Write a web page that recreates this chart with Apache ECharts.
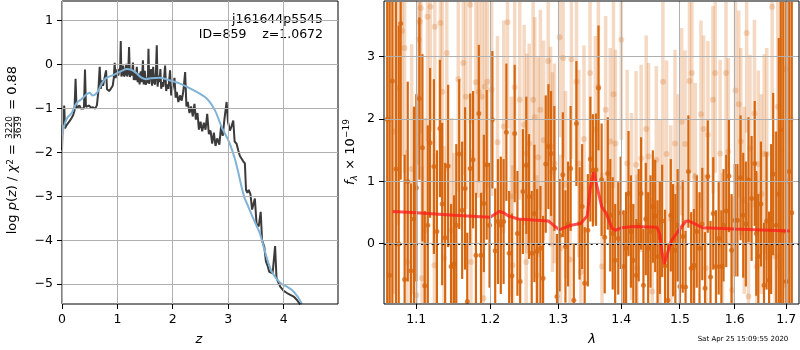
<!DOCTYPE html>
<html><head><meta charset="utf-8">
<script src="https://cdn.jsdelivr.net/npm/echarts@6/dist/echarts.min.js"></script>
<style>html,body{margin:0;padding:0;background:#fff}#c{width:800px;height:350px}</style>
</head><body><div id="c"></div>
<script>
const FONT = 'DejaVu Sans';
// ---------- left panel: log p(z) ----------
const pzZ = [0.000,0.010,0.025,0.040,0.055,0.080,0.110,0.140,0.170,0.200,0.225,0.245,0.262,0.290,0.315,0.340,0.370,0.395,0.415,0.432,0.460,0.490,0.520,0.560,0.600,0.630,0.655,0.680,0.700,0.720,0.740,0.760,0.795,0.812,0.850,0.880,0.915,0.935,0.950,0.965,0.985,1.000,1.015,1.035,1.050,1.060,1.072,1.090,1.105,1.120,1.140,1.160,1.175,1.195,1.210,1.225,1.245,1.262,1.280,1.295,1.315,1.330,1.350,1.365,1.385,1.400,1.420,1.440,1.460,1.475,1.495,1.512,1.535,1.548,1.560,1.575,1.595,1.610,1.625,1.645,1.660,1.680,1.695,1.710,1.725,1.745,1.760,1.775,1.790,1.810,1.830,1.860,1.880,1.900,1.920,1.950,1.970,2.000,2.030,2.050,2.070,2.100,2.130,2.160,2.190,2.222,2.245,2.270,2.300,2.330,2.360,2.390,2.415,2.445,2.470,2.500,2.530,2.560,2.590,2.620,2.650,2.680,2.710,2.740,2.770,2.800,2.840,2.870,2.900,2.930,2.970,2.995,3.030,3.060,3.090,3.115,3.150,3.180,3.210,3.240,3.270,3.300,3.320,3.345,3.370,3.400,3.430,3.480,3.510,3.550,3.585,3.610,3.650,3.680,3.710,3.740,3.770,3.800,3.845,3.870,3.900,3.940,4.000,4.060,4.120,4.180,4.240,4.300];
const pzLog = [-1.95,-1.40,-1.30,-0.93,-1.45,-1.38,-1.33,-1.28,-1.22,-1.15,-1.05,-0.32,-1.00,-0.98,-0.93,-1.00,-0.96,-1.00,-0.11,-0.96,-1.00,-0.93,-0.98,-0.97,-1.00,-0.92,-0.62,-0.05,-0.55,-0.36,-0.48,-0.50,-0.13,-0.56,-0.60,-0.55,-0.48,-0.30,0.04,-0.30,-0.22,-0.10,-0.25,-0.28,-0.05,0.54,-0.27,-0.20,-0.02,-0.27,-0.22,0.02,-0.27,-0.18,0.40,-0.28,-0.12,-0.25,0.05,-0.35,-0.18,-0.35,-0.05,-0.40,-0.20,-0.45,-0.15,-0.40,0.10,-0.45,-0.14,-0.46,-0.30,-0.42,0.36,-0.44,-0.20,-0.10,-0.48,-0.05,-0.40,-0.45,-0.15,0.44,-0.50,-0.25,-0.40,-0.10,-0.55,-0.40,-0.50,-0.02,-0.60,-0.45,-0.55,-0.13,-0.70,-0.66,-0.30,-0.75,-0.62,-0.85,-0.70,-0.82,-0.60,-0.17,-0.95,-0.85,-1.10,-0.95,-1.18,-0.89,-1.25,-1.10,-1.48,-1.30,-1.52,-1.32,-1.48,-1.12,-1.58,-1.50,-1.80,-1.55,-1.85,-1.68,-1.82,-1.40,-1.62,-1.25,-0.85,-1.30,-1.50,-1.40,-1.27,-1.75,-1.80,-1.95,-2.08,-2.05,-2.20,-2.25,-2.85,-2.92,-2.85,-2.95,-3.30,-3.05,-3.62,-3.68,-3.35,-4.00,-4.15,-4.48,-4.58,-4.72,-4.70,-4.75,-4.13,-4.85,-4.95,-5.06,-5.15,-5.20,-5.24,-5.28,-5.36,-5.46];
const smoothZ = [0.00,0.05,0.10,0.175,0.26,0.356,0.44,0.50,0.55,0.60,0.66,0.72,0.80,0.90,1.00,1.08,1.17,1.25,1.33,1.44,1.52,1.60,1.77,1.95,2.13,2.37,2.61,2.76,2.88,3.00,3.06,3.12,3.18,3.24,3.29,3.35,3.45,3.57,3.65,3.72,3.80,3.94,4.05,4.15,4.25,4.33];
const smoothLog = [-1.60,-1.35,-1.20,-1.10,-0.88,-0.78,-0.68,-0.64,-0.70,-0.68,-0.58,-0.42,-0.30,-0.25,-0.19,-0.14,-0.10,-0.12,-0.18,-0.30,-0.33,-0.31,-0.30,-0.36,-0.43,-0.58,-0.77,-1.04,-1.42,-1.72,-1.91,-2.15,-2.45,-2.78,-3.02,-3.20,-3.50,-3.84,-4.20,-4.50,-4.75,-4.97,-5.05,-5.13,-5.28,-5.45];
const zTicks = [0,1,2,3,4];
const pzTicks = [-5,-4,-3,-2,-1,0,1];

// ---------- right panel: spectrum ----------
const darkLam = [1.063,1.066,1.0695,1.074,1.0775,1.080,1.085,1.089,1.093,1.097,1.100,1.104,1.108,1.111,1.115,1.118,1.123,1.127,1.131,1.134,1.138,1.142,1.146,1.150,1.153,1.157,1.161,1.165,1.168,1.172,1.176,1.180,1.184,1.187,1.191,1.195,1.199,1.203,1.207,1.211,1.215,1.219,1.223,1.227,1.231,1.235,1.239,1.243,1.247,1.252,1.256,1.260,1.264,1.268,1.273,1.277,1.281,1.285,1.289,1.294,1.298,1.302,1.307,1.311,1.315,1.319,1.324,1.328,1.333,1.337,1.341,1.346,1.350,1.354,1.359,1.363,1.368,1.373,1.378,1.382,1.386,1.390,1.395,1.399,1.404,1.408,1.412,1.416,1.420,1.425,1.429,1.433,1.437,1.441,1.445,1.449,1.453,1.457,1.461,1.465,1.469,1.474,1.479,1.484,1.488,1.492,1.496,1.500,1.505,1.510,1.515,1.520,1.525,1.530,1.535,1.540,1.545,1.550,1.555,1.560,1.565,1.570,1.575,1.579,1.584,1.589,1.594,1.600,1.605,1.611,1.616,1.621,1.626,1.632,1.638,1.641,1.645,1.650,1.656,1.661,1.666,1.670,1.674,1.680,1.685,1.689,1.694,1.700,1.706,1.711];
const darkFlux = [2.0,-0.5,2.61,1.2,0.0,3.53,-0.57,1.0,-0.43,0.4,0.9,2.33,1.54,-0.67,0.3,1.62,1.24,0.2,1.85,0.64,0.1,1.25,-0.36,-0.32,0.3,1.44,0.54,0.89,-0.92,1.21,1.35,-0.18,2.09,-0.18,0.65,1.27,0.3,1.99,-0.11,0.36,0.3,0.36,1.79,-0.15,-0.51,1.77,0.17,-0.6,0.84,1.26,0.76,-0.15,0.49,-0.12,-0.07,-0.55,1.28,1.56,1.45,1.21,-0.84,0.14,1.11,-0.04,0.32,1.21,-0.9,1.93,0.33,0.6,-0.63,0.22,1.36,1.18,1.19,2.5,1.03,0.11,1.13,0.46,0.17,-0.26,0.09,0.5,-0.36,-0.07,0.81,0.2,-0.26,-0.5,0.3,0.81,-0.66,0.4,-0.07,0.2,0.6,0.45,-0.2,0.1,0.37,-0.35,-0.9,0.46,0.06,-0.1,0.3,-0.68,0.12,-0.69,1.16,-0.39,-0.34,0.2,-0.07,0.32,-0.71,1.08,-0.53,0.49,-0.36,0.09,-0.36,0.3,0.53,1.09,-0.1,0.38,0.38,1.06,0.46,0.32,1.03,0.73,1.29,0.17,-0.2,0.64,-0.66,0.37,-0.58,0.4,1.12,0.3,0.8,1.83,0.2,-0.6,1.16,0.5];
const darkErr = [6,6,5,4,3.5,2.5,2.0,1.6,1.4,1.8,1.5,1.3,1.5,1.2,1.6,1.2,1.4,1.3,1.1,1.3,1.2,1.3,1.0,1.1,1.3,1.2,1.1,1.3,1.1,1.2,1.1,1.0,1.1,1.0,1.1,1.2,1.0,1.1,1.0,1.0,1.1,1.0,1.1,1.0,1.0,1.1,1.0,1.0,1.0,1.1,1.0,1.0,1.1,1.0,1.0,1.0,1.1,1.0,1.0,1.0,1.0,0.9,1.0,0.9,1.0,1.0,0.9,1.0,0.9,1.0,0.9,0.9,1.0,0.9,0.9,1.0,0.9,0.9,0.9,0.9,0.9,0.9,0.9,0.9,0.9,0.9,1.0,0.9,0.9,0.9,0.9,0.9,0.9,0.9,0.9,0.9,0.9,0.9,0.9,0.9,0.9,0.9,0.9,0.9,0.9,0.9,0.9,0.9,0.9,0.9,0.9,0.9,0.9,0.9,0.9,0.9,0.9,0.9,0.9,0.9,0.9,0.9,0.9,0.9,0.9,0.9,0.9,0.9,0.9,1.0,1.0,1.0,1.0,1.0,1.0,1.0,1.0,1.0,1.0,1.1,1.1,1.2,1.3,1.5,2.5,4,5,6,6,6,6];
const lightLam = [1.066,1.072,1.077,1.0817,1.0849,1.0881,1.094,1.100,1.1032,1.1046,1.1059,1.1075,1.1114,1.1146,1.1183,1.1237,1.1242,1.1315,1.1342,1.1364,1.1402,1.1466,1.1497,1.1557,1.1626,1.1662,1.1721,1.1730,1.1799,1.1836,1.1881,1.1904,1.1922,1.1959,1.2020,1.2103,1.2192,1.2246,1.2300,1.2320,1.2350,1.2424,1.2488,1.2518,1.2527,1.2562,1.2621,1.2645,1.2675,1.2695,1.2729,1.2778,1.2847,1.2882,1.2911,1.2941,1.3021,1.3035,1.3074,1.3112,1.3180,1.3202,1.3282,1.3319,1.3350,1.3399,1.3495,1.3580,1.3628,1.3686,1.3745,1.3819,1.3872,1.3904,1.4000,1.4097,1.4170,1.4246,1.4262,1.4331,1.4417,1.4457,1.4520,1.4589,1.4650,1.4703,1.4766,1.4840,1.4914,1.4970,1.5030,1.5091,1.5170,1.5212,1.5250,1.5273,1.5376,1.5424,1.5465,1.5503,1.5594,1.5636,1.5727,1.5770,1.5836,1.5879,1.5950,1.6013,1.6075,1.6113,1.6180,1.6225,1.6260,1.6290,1.6375,1.6420,1.6450,1.6510,1.6563,1.6613,1.6719,1.6780,1.683,1.690,1.697,1.703,1.709];
const lightFlux = [2.0,1.8,2.5,3.41,3.14,-0.29,1.2,-0.82,3.27,3.56,3.78,-0.55,0.22,3.64,3.8,-0.34,3.48,3.54,2.44,-0.23,3.06,0.22,-0.34,2.64,2.9,2.36,3.83,-0.29,2.59,2.44,2.36,-0.87,2.52,2.6,2.47,1.63,1.88,3.55,0.76,-0.34,2.51,2.31,1.91,-0.29,1.45,1.61,2.31,2.03,-0.5,1.39,2.15,1.66,2.93,1.56,1.15,1.29,3.31,-0.07,2.98,0.95,-0.25,2.96,2.6,1.29,-0.45,1.68,2.74,1.83,2.52,-0.36,2.15,1.64,2.4,1.61,3.27,1.29,0.6,1.27,-0.39,1.37,1.84,1.4,-0.76,1.35,0.5,2.6,1.44,0.4,1.61,0.9,1.96,1.6,2.61,2.74,-0.36,1.08,2.08,1.84,-0.39,1.75,2.31,2.74,1.45,-0.36,2.74,1.48,-0.74,2.46,2.24,1.64,0.7,3.38,-0.84,1.53,2.09,-0.36,1.28,0.8,1.44,1.44,3.8,-0.2,2.2,1.5,2.8,1.0,2.0];
const lightErr = [3.0,2.6,2.2,2.0,2.0,1.8,2.0,1.8,2.0,2.0,2.0,1.8,1.8,2.0,2.0,1.8,2.0,2.0,1.8,1.8,1.9,1.8,1.8,1.8,1.8,1.8,1.9,1.8,1.8,1.7,1.7,1.7,1.7,1.7,1.7,1.7,1.7,1.7,1.6,1.6,1.7,1.6,1.6,1.6,1.6,1.6,1.6,1.6,1.6,1.6,1.6,1.6,1.6,1.6,1.6,1.6,1.6,1.5,1.6,1.5,1.5,1.6,1.6,1.5,1.5,1.5,1.6,1.5,1.5,1.5,1.5,1.5,1.5,1.5,1.6,1.5,1.5,1.5,1.5,1.5,1.5,1.5,1.5,1.5,1.5,1.6,1.5,1.5,1.5,1.5,1.5,1.5,1.6,1.6,1.5,1.5,1.5,1.5,1.5,1.5,1.5,1.6,1.5,1.5,1.6,1.5,1.5,1.5,1.5,1.5,1.5,1.6,1.5,1.5,1.5,1.5,1.5,1.6,1.6,1.7,1.8,2.0,2.6,3.0,3.5,4,4];
const modelLam = [1.07,1.10,1.15,1.20,1.207,1.213,1.219,1.226,1.24,1.285,1.295,1.302,1.32,1.335,1.345,1.350,1.355,1.360,1.368,1.375,1.385,1.39,1.40,1.42,1.46,1.465,1.469,1.473,1.478,1.485,1.495,1.51,1.515,1.525,1.54,1.60,1.707];
const modelFlux = [0.52,0.50,0.46,0.43,0.48,0.52,0.50,0.45,0.40,0.37,0.28,0.23,0.30,0.33,0.45,0.90,1.15,0.95,0.60,0.50,0.25,0.22,0.26,0.28,0.27,0.15,-0.15,-0.32,-0.15,0.05,0.18,0.36,0.37,0.33,0.26,0.24,0.21];
const lamTicks = [1.1,1.2,1.3,1.4,1.5,1.6,1.7];
const fluxTicks = [0,1,2,3];

const zip3 = (a,b,c) => a.map((v,i) => [v, b[i], c[i]]);
const zip2 = (a,b) => a.map((v,i) => [v, b[i]]);
const minus = v => (v < 0 ? '\u2212' + Math.abs(v) : String(v));

const DARK = '#d7670f';
const LIGHT_BAR = 'rgba(215,104,15,0.25)';
const LIGHT_DOT = 'rgba(215,104,15,0.3)';
const GRIDC = '#b0b0b0';
const crisp = v => Math.round(v - 0.5) + 0.5;

// layout of the two panels
const G0 = { left: 62, top: 1, width: 276, height: 303 };
const G1 = { left: 384, top: 1, width: 415, height: 303 };
const X0 = [0, 4.98], Y0 = [-5.45, 1.45];

function errRender(color, width) {
  return function (params, api) {
    const x = api.value(0), y = api.value(1), e = api.value(2);
    const p1 = api.coord([x, y + e]), p2 = api.coord([x, y - e]);
    const cs = params.coordSys;
    const top = cs.y + 1, bot = cs.y + cs.height - 1;
    const y1 = Math.max(top, Math.min(bot, p1[1]));
    const y2 = Math.max(top, Math.min(bot, p2[1]));
    if (y1 === y2) return null;
    return { type: 'line', shape: { x1: p1[0], y1: y1, x2: p1[0], y2: y2 },
             style: { stroke: color, lineWidth: width } };
  };
}
function vGridRender(params, api) {
  const p = api.coord([api.value(0), api.value(1)]);
  const cs = params.coordSys, x = crisp(p[0]), b = cs.y + cs.height;
  return { type: 'group', children: [
    { type: 'line', shape: { x1: x, y1: cs.y, x2: x, y2: b }, style: { stroke: GRIDC, lineWidth: 1 } },
    { type: 'line', shape: { x1: x, y1: b, x2: x, y2: b + 5 }, style: { stroke: '#000', lineWidth: 1 } }
  ] };
}
function hGridRender(params, api) {
  const p = api.coord([api.value(0), api.value(1)]);
  const cs = params.coordSys, y = crisp(p[1]);
  return { type: 'group', children: [
    { type: 'line', shape: { x1: cs.x, y1: y, x2: cs.x + cs.width, y2: y }, style: { stroke: GRIDC, lineWidth: 1 } },
    { type: 'line', shape: { x1: cs.x - 5, y1: y, x2: cs.x, y2: y }, style: { stroke: '#000', lineWidth: 1 } }
  ] };
}

const tickLabel = { color: '#000', fontFamily: FONT, fontSize: 12.5, margin: 9 };

const baseGraphic = [
  { type: 'text', x: 323, y: 20, z: 20, style: { text: 'j161644p5545', font: '12.5px "DejaVu Sans"', fill: '#000', align: 'right', verticalAlign: 'middle', textAlign: 'right', textVerticalAlign: 'middle' } },
  { type: 'text', x: 323, y: 35, z: 20, style: { text: 'ID=859    z=1.0672', font: '12.5px "DejaVu Sans"', fill: '#000', align: 'right', verticalAlign: 'middle', textAlign: 'right', textVerticalAlign: 'middle' } },
  { type: 'text', x: 743, y: 339, z: 20, style: { text: 'Sat Apr 25 15:09:55 2020', font: '7px "DejaVu Sans"', fill: '#000', align: 'center', verticalAlign: 'middle', textAlign: 'center', textVerticalAlign: 'middle' } },
  { type: 'text', x: 199, y: 340, z: 20, style: { text: 'z', font: 'italic 13px "DejaVu Sans"', fill: '#000', align: 'center', verticalAlign: 'middle', textAlign: 'center', textVerticalAlign: 'middle' } },
  { type: 'text', x: 592, y: 340, z: 20, style: { text: 'λ', font: 'italic 13px "DejaVu Sans"', fill: '#000', align: 'center', verticalAlign: 'middle', textAlign: 'center', textVerticalAlign: 'middle' } },
  { type: 'group', x: 13, y: 240, rotation: Math.PI / 2, z: 20, children: [
    { type: 'text', x: 96, y: 0, style: { text: '{n|log }{i|p}{n|(}{i|z}{n|) / }{i|χ}{s|2}{n| =}', align: 'right', verticalAlign: 'middle', textAlign: 'right', textVerticalAlign: 'middle',
        rich: { n: { fontFamily: FONT, fontSize: 13, fill: '#000', color: '#000' }, i: { fontFamily: FONT, fontSize: 13, fontStyle: 'italic', fill: '#000', color: '#000' }, s: { fontFamily: FONT, fontSize: 9, fill: '#000', color: '#000', verticalAlign: 'top' } } } },
    { type: 'text', x: 112.5, y: -3.5, style: { text: '3220', font: '9px "DejaVu Sans"', fill: '#000', align: 'center', verticalAlign: 'middle', textAlign: 'center', textVerticalAlign: 'middle' } },
    { type: 'rect', shape: { x: 101.5, y: 0.6, width: 22, height: 0.9 }, style: { fill: '#000' } },
    { type: 'text', x: 112.5, y: 6, style: { text: '3639', font: '9px "DejaVu Sans"', fill: '#000', align: 'center', verticalAlign: 'middle', textAlign: 'center', textVerticalAlign: 'middle' } },
    { type: 'text', x: 126, y: 0, style: { text: ' = 0.88', font: '13px "DejaVu Sans"', fill: '#000', align: 'left', verticalAlign: 'middle', textAlign: 'left', textVerticalAlign: 'middle' } }
  ] },
  { type: 'group', x: 351, y: 185, rotation: Math.PI / 2, z: 20, children: [
    { type: 'text', x: 0, y: 0, style: { text: 'f', font: 'italic 13px "DejaVu Sans"', fill: '#000', align: 'left', verticalAlign: 'middle', textAlign: 'left', textVerticalAlign: 'middle' } },
    { type: 'text', x: 4.5, y: 4, style: { text: 'λ', font: 'italic 9px "DejaVu Sans"', fill: '#000', align: 'left', verticalAlign: 'middle', textAlign: 'left', textVerticalAlign: 'middle' } },
    { type: 'text', x: 11, y: 0, style: { text: ' × 10', font: '13px "DejaVu Sans"', fill: '#000', align: 'left', verticalAlign: 'middle', textAlign: 'left', textVerticalAlign: 'middle' } },
    { type: 'text', x: 47, y: -4.5, style: { text: '\u221219', font: '9px "DejaVu Sans"', fill: '#000', align: 'left', verticalAlign: 'middle', textAlign: 'left', textVerticalAlign: 'middle' } }
  ] }
];

const chart = echarts.init(document.getElementById('c'), null, { renderer: 'canvas' });
chart.setOption({
  animation: false,
  backgroundColor: '#fff',
  grid: [
    Object.assign({ show: true, borderColor: '#000', borderWidth: 1, z: 8 }, G0),
    Object.assign({ show: true, borderColor: '#000', borderWidth: 1, z: 8 }, G1)
  ],
  xAxis: [
    { gridIndex: 0, type: 'value', min: X0[0], max: X0[1], axisLine: { show: false }, axisTick: { show: false }, splitLine: { show: false },
      axisLabel: Object.assign({}, tickLabel, { customValues: zTicks, formatter: minus }) },
    { gridIndex: 1, type: 'log', logBase: 10, min: 1.059, max: 1.7256, axisLine: { show: false }, axisTick: { show: false }, splitLine: { show: false },
      axisLabel: Object.assign({}, tickLabel, { customValues: lamTicks, formatter: v => Number(v).toFixed(1) }) }
  ],
  yAxis: [
    { gridIndex: 0, type: 'value', min: Y0[0], max: Y0[1], axisLine: { show: false }, axisTick: { show: false }, splitLine: { show: false },
      axisLabel: Object.assign({}, tickLabel, { customValues: pzTicks, formatter: minus }) },
    { gridIndex: 1, type: 'value', min: -0.961, max: 3.892, axisLine: { show: false }, axisTick: { show: false }, splitLine: { show: false },
      axisLabel: Object.assign({}, tickLabel, { customValues: fluxTicks, formatter: minus }) }
  ],
  series: [
    { type: 'line', xAxisIndex: 0, yAxisIndex: 0, data: zip2(pzZ, pzLog), showSymbol: false, symbol: 'none',
      lineStyle: { color: '#3b3b3b', width: 2 }, clip: true, z: 3 },
    { type: 'line', xAxisIndex: 0, yAxisIndex: 0, data: zip2(smoothZ, smoothLog), showSymbol: false, symbol: 'none', smooth: 0.3,
      lineStyle: { color: '#80b3d8', width: 2 }, clip: true, z: 4 },
    { type: 'custom', xAxisIndex: 1, yAxisIndex: 1, data: zip3(lightLam, lightFlux, lightErr),
      encode: { x: 0, y: 1 }, renderItem: errRender(LIGHT_BAR, 3.5), z: 2 },
    { type: 'scatter', xAxisIndex: 1, yAxisIndex: 1, data: zip2(lightLam, lightFlux), symbolSize: 6,
      itemStyle: { color: LIGHT_DOT }, clip: true, z: 2 },
    { type: 'custom', xAxisIndex: 1, yAxisIndex: 1, data: zip3(darkLam, darkFlux, darkErr),
      encode: { x: 0, y: 1 }, renderItem: errRender(DARK, 2.2), z: 3 },
    { type: 'scatter', xAxisIndex: 1, yAxisIndex: 1, data: zip2(darkLam, darkFlux), symbolSize: 5,
      itemStyle: { color: DARK }, clip: true, z: 3 },
    { type: 'line', xAxisIndex: 1, yAxisIndex: 1, data: zip2(modelLam, modelFlux), showSymbol: false, symbol: 'none',
      lineStyle: { color: 'rgba(255,25,25,0.75)', width: 3 }, z: 4,
      markLine: { silent: true, symbol: 'none', label: { show: false }, animation: false,
        data: [{ yAxis: 0, lineStyle: { color: '#000', width: 2, type: [2, 3.3] } }] } },
    { type: 'custom', xAxisIndex: 1, yAxisIndex: 1, data: lamTicks.map(v => [v, 0]), encode: { x: 0, y: 1 },
      renderItem: vGridRender, clip: false, silent: true, z: 5 },
    { type: 'custom', xAxisIndex: 1, yAxisIndex: 1, data: fluxTicks.map(v => [1.3, v]), encode: { x: 0, y: 1 },
      renderItem: hGridRender, clip: false, silent: true, z: 5 }
  ],
  graphic: baseGraphic
});

// left panel grid lines and tick marks (axis furniture) at the left axes' tick values
function toPx(key, v) {
  let r = null;
  try { const f = {}; f[key] = 0; r = chart.convertToPixel(f, v); } catch (e) { r = null; }
  if (Array.isArray(r)) r = key === 'xAxisIndex' ? r[0] : r[1];
  if (typeof r === 'number' && isFinite(r)) return r;
  // fallback: linear value axis over the grid box
  return key === 'xAxisIndex'
    ? G0.left + (v - X0[0]) / (X0[1] - X0[0]) * G0.width
    : G0.top + (Y0[1] - v) / (Y0[1] - Y0[0]) * G0.height;
}
const L = G0.left, R = G0.left + G0.width, T = G0.top, B = G0.top + G0.height;
const seg = (x1, y1, x2, y2, c) => ({ type: 'line', silent: true, z: 9, zlevel: 1,
  shape: { x1: x1, y1: y1, x2: x2, y2: y2 }, style: { stroke: c, lineWidth: 1 } });
const gl = [];
zTicks.forEach(v => { const x = crisp(toPx('xAxisIndex', v)); gl.push(seg(x, T, x, B, GRIDC), seg(x, B, x, B + 5, '#000')); });
pzTicks.forEach(v => { const y = crisp(toPx('yAxisIndex', v)); gl.push(seg(L, y, R, y, GRIDC), seg(L - 5, y, L, y, '#000')); });
chart.setOption({ graphic: baseGraphic.concat(gl) });
</script></body></html>
